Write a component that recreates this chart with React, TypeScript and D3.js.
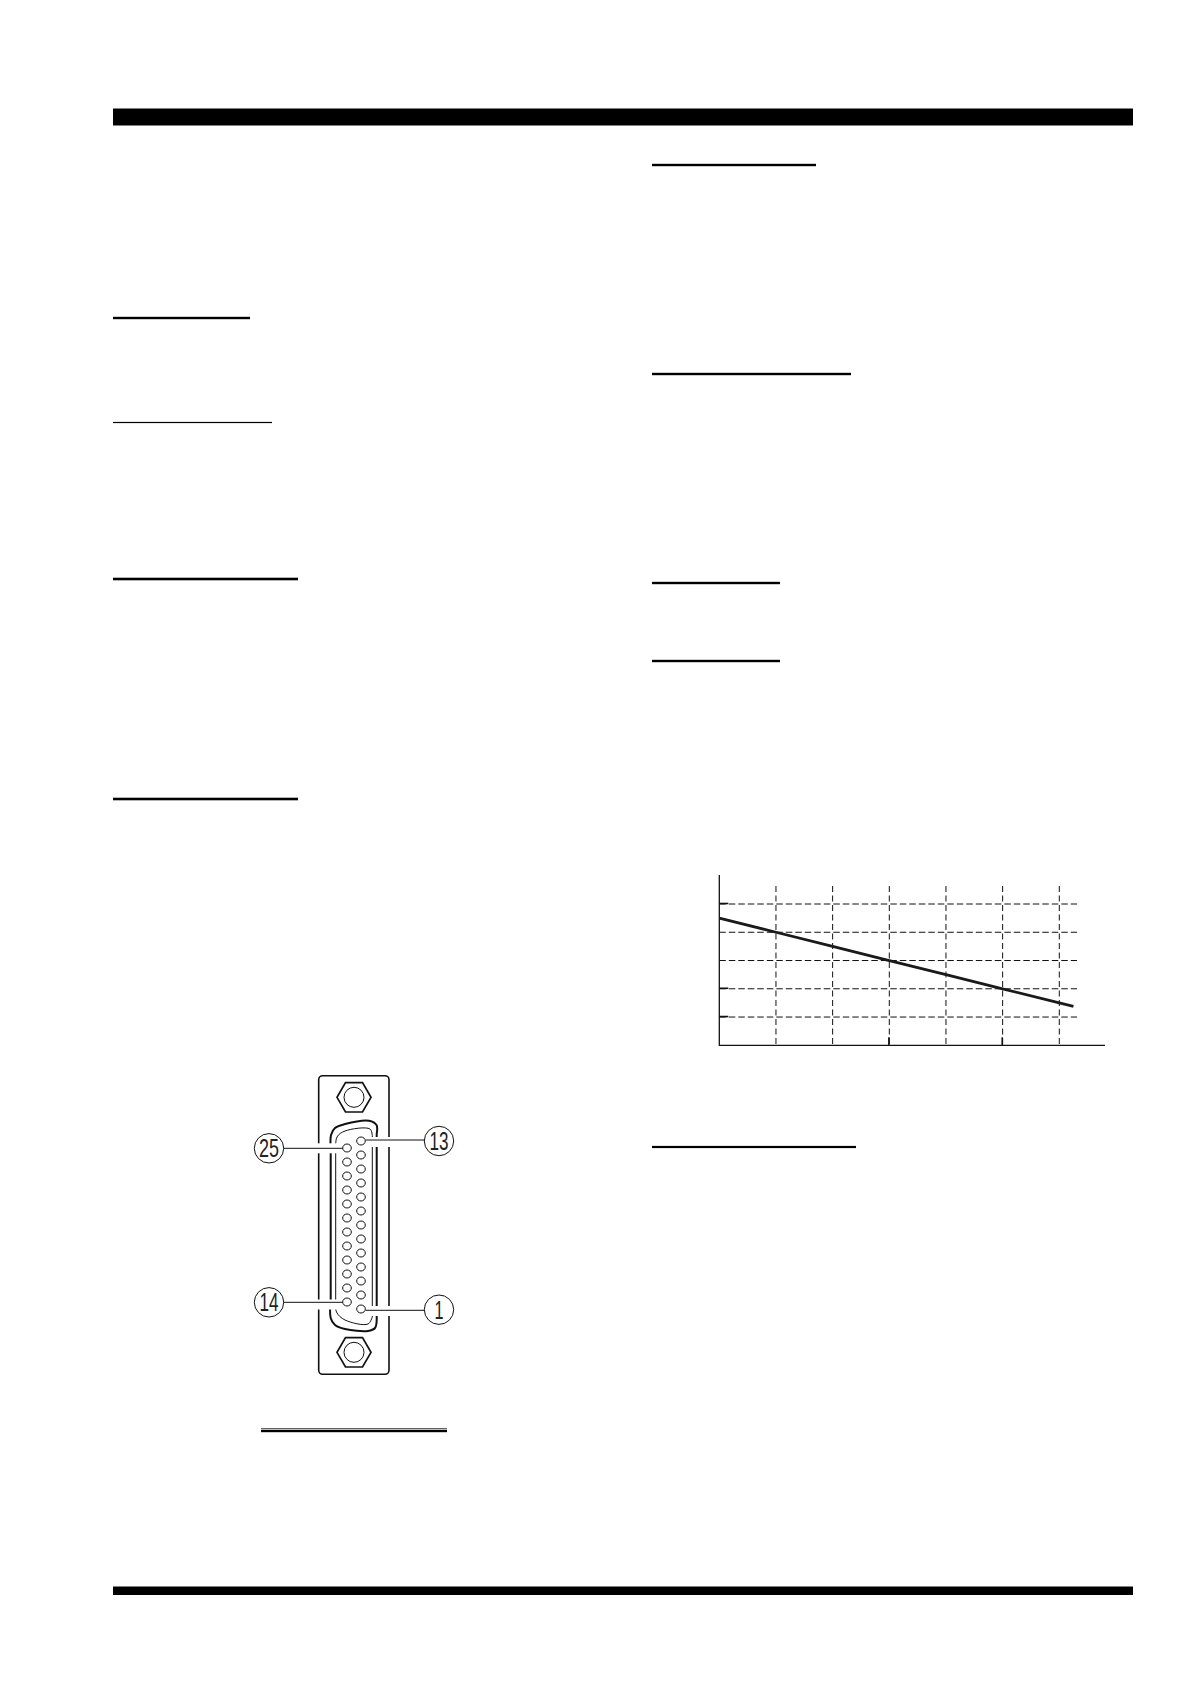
import * as d3 from 'd3';
import { useEffect, useRef } from 'react';

// chart (no tick labels survive in the scan, units are grid steps)
const gridXValues = [1, 2, 3, 4, 5, 6];
const gridYValues = [1, 2, 3, 4, 5];
const heavyYTicks = [1, 2, 5];
const heavyXTicks = [3, 5];
const lineX = [0, 1, 2, 3, 4, 5, 6, 6.25];
const lineY = [4.5, 4, 3.5, 3, 2.5, 2, 1.5, 1.38];

// connector callouts
const calloutLabels = ['25', '13', '14', '1'];
const rightPinCount = 13;
const leftPinCount = 12;

// section underlines on the page: x0, x1, y, thickness
const headingRules: [number, number, number, number][] = [
  [113, 250, 318, 2.4],
  [113, 272, 422.5, 1.2],
  [113, 298, 579, 2.6],
  [113, 298, 799, 2.6],
  [652, 816, 165, 2.4],
  [652, 851, 374, 2.4],
  [652, 780, 583, 2.4],
  [652, 780, 661, 2.4],
  [652, 856, 1147, 2.2],
];

const WIDTH = 1190;
const HEIGHT = 1684;

const drawChart = (svg) => {
  const x = d3.scaleLinear().domain([0, 6]).range([719.3, 1059.3]);
  const y = d3.scaleLinear().domain([0, 5]).range([1045.3, 904]);
  const g = svg.append('g').attr('fill', 'none').attr('stroke', '#111');

  // dashed grid
  g.append('g')
    .attr('stroke-width', 1)
    .attr('stroke-dasharray', '6.5 3')
    .selectAll('line')
    .data(gridYValues)
    .join('line')
    .attr('x1', x(0))
    .attr('x2', 1077)
    .attr('y1', (d) => y(d))
    .attr('y2', (d) => y(d));
  g.append('g')
    .attr('stroke-width', 1)
    .attr('stroke-dasharray', '6 3.5')
    .selectAll('line')
    .data(gridXValues)
    .join('line')
    .attr('x1', (d) => x(d))
    .attr('x2', (d) => x(d))
    .attr('y1', 886)
    .attr('y2', y(0));

  // axes
  g.append('path').attr('stroke-width', 1.3).attr('d', `M${x(0)},875V${y(0)}H1105`);
  g.append('g')
    .attr('stroke-width', 1.6)
    .selectAll('line')
    .data(heavyYTicks)
    .join('line')
    .attr('x1', x(0))
    .attr('x2', x(0) + 9)
    .attr('y1', (d) => y(d) - 0.5)
    .attr('y2', (d) => y(d) - 0.5);
  g.append('g')
    .attr('stroke-width', 1.6)
    .selectAll('line')
    .data(heavyXTicks)
    .join('line')
    .attr('x1', (d) => x(d) - 0.4)
    .attr('x2', (d) => x(d) - 0.4)
    .attr('y1', y(0) - 8)
    .attr('y2', y(0));

  const line = d3
    .line<number>()
    .x((d) => x(d))
    .y((_, i) => y(lineY[i]));
  g.append('path').attr('stroke-width', 2.8).attr('stroke', '#1a1a1a').attr('d', line(lineX));
};

const drawConnector = (svg) => {
  const g = svg.append('g').attr('fill', 'none').attr('stroke', '#111');
  const curve = d3.line().curve(d3.curveCatmullRom.alpha(0.5));

  // panel
  g.append('rect')
    .attr('x', 318.7)
    .attr('y', 1075.7)
    .attr('width', 70.3)
    .attr('height', 298.6)
    .attr('rx', 4)
    .attr('stroke-width', 1.6);

  // mounting nuts
  [1097.3, 1352.3].forEach((cy) => {
    const hex = d3.range(6).map((i) => [354 + 17 * Math.cos((i * Math.PI) / 3), cy + 17 * Math.sin((i * Math.PI) / 3)]);
    g.append('path').attr('stroke-width', 1.7).attr('d', `M${hex.join('L')}Z`);
    g.append('circle').attr('cx', 354).attr('cy', cy).attr('r', 10).attr('stroke-width', 1);
  });

  // D shell, outer and inner outline
  g.append('path')
    .attr('stroke-width', 2)
    .attr(
      'd',
      curve([
        [330.7, 1300],
        [330.7, 1318],
        [335, 1325],
        [345, 1329],
        [368, 1331],
        [375, 1328],
        [376.7, 1320],
      ]) +
        'L376.7,1134' +
        curve([
          [376.7, 1134],
          [376.5, 1125],
          [369, 1120.7],
          [345, 1124],
          [335, 1128],
          [331, 1135],
          [330.7, 1150],
        ]).replace('M', 'L') +
        'Z',
    );
  g.append('path')
    .attr('stroke-width', 1)
    .attr(
      'd',
      curve([
        [335.7, 1300],
        [336.5, 1312],
        [345, 1320],
        [368, 1324],
        [372.3, 1317],
      ]) +
        'L372.3,1136' +
        curve([
          [372.3, 1136],
          [370, 1129],
          [345, 1131],
          [337, 1137],
          [335.7, 1150],
        ]).replace('M', 'L') +
        'Z',
    );

  // white halos where the leaders cross the panel
  const halos: [number, number, number][] = [
    [316, 338, 1148.3],
    [366, 392, 1142],
    [316, 338, 1304.5],
    [366, 392, 1311],
  ];
  g.append('g')
    .attr('stroke', '#fff')
    .attr('stroke-width', 10)
    .selectAll('line')
    .data(halos)
    .join('line')
    .attr('x1', (d) => d[0])
    .attr('x2', (d) => d[1])
    .attr('y1', (d) => d[2])
    .attr('y2', (d) => d[2]);

  // pins
  const pinY = d3.scaleLinear().domain([0, 12]).range([1141, 1309]);
  const pinRows = [
    { cx: 361, cys: d3.range(rightPinCount).map((i) => pinY(i)) },
    { cx: 347, cys: d3.range(leftPinCount).map((i) => pinY(i) + 7) },
  ];
  pinRows.forEach(({ cx, cys }) => {
    g.append('g')
      .attr('stroke-width', 1)
      .attr('fill', '#fff')
      .selectAll('ellipse')
      .data(cys)
      .join('ellipse')
      .attr('cx', cx)
      .attr('cy', (d) => d)
      .attr('rx', 4.3)
      .attr('ry', 4);
  });

  // callouts
  const calloutPos = [
    { cx: 269, cy: 1148.3, x1: 283.7, x2: 342.7, ly: 1148.3, tl: 20 },
    { cx: 439, cy: 1141, x1: 365.7, x2: 424.3, ly: 1140, tl: 19 },
    { cx: 269, cy: 1302.3, x1: 283.7, x2: 342.7, ly: 1302.3, tl: 19 },
    { cx: 439, cy: 1309.7, x1: 365.7, x2: 424.3, ly: 1310.3, tl: 9 },
  ];
  calloutPos.forEach((c, i) => {
    g.append('line').attr('x1', c.x1).attr('x2', c.x2).attr('y1', c.ly).attr('y2', c.ly).attr('stroke-width', 1);
    g.append('circle').attr('cx', c.cx).attr('cy', c.cy).attr('r', 14.7).attr('stroke-width', 1);
    g.append('text')
      .attr('x', c.cx)
      .attr('y', c.cy + 9)
      .attr('text-anchor', 'middle')
      .attr('font-family', 'Liberation Sans')
      .attr('font-size', 25)
      .attr('fill', '#222')
      .attr('stroke', 'none')
      .attr('textLength', c.tl)
      .attr('lengthAdjust', 'spacingAndGlyphs')
      .text(calloutLabels[i]);
  });
};

export default function App() {
  const container = useRef<SVGSVGElement | null>(null);

  useEffect(() => {
    const svg = d3.select(container.current);
    svg.selectAll('*').remove();
    svg.append('rect').attr('width', WIDTH).attr('height', HEIGHT).attr('fill', '#fff');

    // page bars and rules
    svg.append('rect').attr('x', 113).attr('y', 108.5).attr('width', 1020).attr('height', 17).attr('fill', '#000');
    svg.append('rect').attr('x', 113).attr('y', 1586.5).attr('width', 1020).attr('height', 8.5).attr('fill', '#000');
    svg
      .append('g')
      .selectAll('rect')
      .data(headingRules)
      .join('rect')
      .attr('x', (d) => d[0])
      .attr('y', (d) => d[2] - d[3] / 2)
      .attr('width', (d) => d[1] - d[0])
      .attr('height', (d) => d[3])
      .attr('fill', '#000');
    svg.append('rect').attr('x', 261).attr('y', 1428.3).attr('width', 186).attr('height', 1).attr('fill', '#222');
    svg.append('rect').attr('x', 261).attr('y', 1430).attr('width', 186).attr('height', 2.2).attr('fill', '#000');

    drawChart(svg);
    drawConnector(svg);
  }, []);

  return (
    <svg
      ref={container}
      width={WIDTH}
      height={HEIGHT}
      viewBox={`0 0 ${WIDTH} ${HEIGHT}`}
      style={{ position: 'absolute', left: 0, top: 0 }}
    />
  );
}
